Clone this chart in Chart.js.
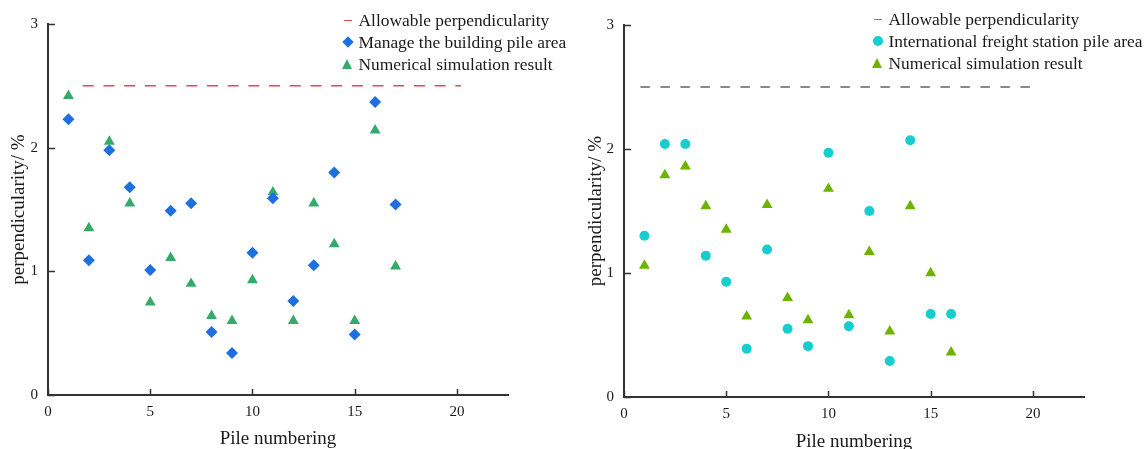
<!DOCTYPE html>
<html>
<head>
<meta charset="utf-8">
<script src="https://cdn.jsdelivr.net/npm/chart.js@4.4.0/dist/chart.umd.min.js"></script>
<style>
    body { margin: 0; background: #fff; width: 1146px; height: 449px; overflow: hidden; position: relative;
           font-family: "Liberation Serif", "Times New Roman", serif; }
    .box { position: absolute; top: 0; width: 573px; height: 449px; }
    .legend { position: absolute; font-size: 17.4px; color: #1a1a1a; line-height: 22px; }
    .row { display: flex; align-items: center; white-space: nowrap; }
    .mk { display: inline-block; width: 11px; height: 11px; margin-right: 5.5px; position: relative; }
    .mk i { position: absolute; display: block; }
    .dash i { left: 2px; top: 5px; width: 8px; height: 1.5px; }
    .diamond i { left: 1.5px; top: 1.5px; width: 8px; height: 8px; transform: rotate(45deg); }
    .tri i { left: 0; top: 0.5px; width: 0; height: 0; border-left: 5.5px solid transparent; border-right: 5.5px solid transparent; }
    .circle i { left: 0.5px; top: 0.5px; width: 10px; height: 10px; border-radius: 50%; }
</style>
</head>
<body>
<div class="box" style="left:0"><canvas id="leftChart" width="573" height="449"></canvas></div>
<div class="box" style="left:573px"><canvas id="rightChart" width="573" height="449"></canvas></div>

<div class="legend" style="left:342px; top:9px;">
    <div class="row"><span class="mk dash"><i style="background:#e84848"></i></span>Allowable perpendicularity</div>
    <div class="row"><span class="mk diamond"><i style="background:#1e6fdf"></i></span>Manage the building pile area</div>
    <div class="row"><span class="mk tri"><i style="border-bottom:10px solid #35aa6b"></i></span>Numerical simulation result</div>
</div>
<div class="legend" style="left:872px; top:8px;">
    <div class="row"><span class="mk dash"><i style="background:#777"></i></span>Allowable perpendicularity</div>
    <div class="row"><span class="mk circle"><i style="background:#17cdd0"></i></span>International freight station pile area</div>
    <div class="row"><span class="mk tri"><i style="border-bottom:10px solid #6db300"></i></span>Numerical simulation result</div>
</div>

<script>
// left panel: building pile area
const pilesLeft = [1, 2, 3, 4, 5, 6, 7, 8, 9, 10, 11, 12, 13, 14, 15, 16, 17];
const buildingArea = [2.23, 1.09, 1.98, 1.68, 1.01, 1.49, 1.55, 0.51, 0.34, 1.15, 1.59, 0.76, 1.05, 1.80, 0.49, 2.37, 1.54];
const simulationLeft = [2.42, 1.35, 2.05, 1.55, 0.75, 1.11, 0.90, 0.64, 0.60, 0.93, 1.64, 0.60, 1.55, 1.22, 0.60, 2.14, 1.04];
const allowLeftX = [1.7, 20.2];

// right panel: international freight station
const pilesRight = [1, 2, 3, 4, 5, 6, 7, 8, 9, 10, 11, 12, 13, 14, 15, 16];
const freightArea = [1.30, 2.04, 2.04, 1.14, 0.93, 0.39, 1.19, 0.55, 0.41, 1.97, 0.57, 1.50, 0.29, 2.07, 0.67, 0.67];
const simulationRight = [1.06, 1.79, 1.86, 1.54, 1.35, 0.65, 1.55, 0.80, 0.62, 1.68, 0.66, 1.17, 0.53, 1.54, 1.00, 0.36];
const allowRightX = [0.8, 20.25];

const allowable = 2.5;
const xTicks = [0, 5, 10, 15, 20];
const yTicks = [0, 1, 2, 3];

const toPoints = (xs, ys) => xs.map((x, i) => ({ x: x, y: ys[i] }));

// ticks in the picture point inward, chart.js only draws them outward
const innerTicks = {
    id: 'innerTicks',
    afterDatasetsDraw(chart) {
        const { ctx, chartArea, scales } = chart;
        ctx.save();
        ctx.strokeStyle = '#333';
        ctx.lineWidth = 1.5;
        scales.x.ticks.forEach(t => {
            const px = Math.round(scales.x.getPixelForValue(t.value)) + 0.5;
            ctx.beginPath();
            ctx.moveTo(px, chartArea.bottom);
            ctx.lineTo(px, chartArea.bottom - 6);
            ctx.stroke();
        });
        scales.y.ticks.forEach(t => {
            const py = Math.round(scales.y.getPixelForValue(t.value)) + 0.5;
            ctx.beginPath();
            ctx.moveTo(chartArea.left, py);
            ctx.lineTo(chartArea.left + 7, py);
            ctx.stroke();
        });
        ctx.restore();
    }
};

function makeChart(id, cfg) {
    const tickFont = { family: 'Liberation Serif', size: 15 };
    const titleFont = { family: 'Liberation Serif', size: 19, lineHeight: 0.7 };
    return new Chart(document.getElementById(id), {
        type: 'scatter',
        data: {
            datasets: [
                {
                    label: 'Allowable perpendicularity',
                    data: toPoints(cfg.allowX, cfg.allowX.map(() => allowable)),
                    showLine: true,
                    borderColor: cfg.lineColor,
                    borderWidth: cfg.lineWidth,
                    borderDash: cfg.dash,
                    pointRadius: 0
                },
                {
                    label: cfg.areaLabel,
                    data: toPoints(cfg.piles, cfg.area),
                    pointStyle: cfg.areaStyle,
                    pointRadius: cfg.areaRadius,
                    backgroundColor: cfg.areaColor,
                    borderColor: cfg.areaColor,
                    borderWidth: 0
                },
                {
                    label: 'Numerical simulation result',
                    data: toPoints(cfg.piles, cfg.sim),
                    pointStyle: 'triangle',
                    pointRadius: 6.3,
                    backgroundColor: cfg.simColor,
                    borderColor: cfg.simColor,
                    borderWidth: 0
                }
            ]
        },
        options: {
            responsive: false,
            animation: false,
            devicePixelRatio: 1,
            layout: { padding: { left: 0, right: cfg.padRight, top: cfg.padTop, bottom: 0 } },
            plugins: { legend: { display: false }, tooltip: { enabled: false } },
            scales: {
                x: {
                    type: 'linear',
                    min: 0,
                    max: 22.5,
                    afterFit: s => { s.height = cfg.xHeight; },
                    afterBuildTicks: s => { s.ticks = xTicks.map(v => ({ value: v })); },
                    ticks: { font: tickFont, color: '#1a1a1a', padding: 8, maxRotation: 0 },
                    grid: { display: true, drawOnChartArea: false, drawTicks: false },
                    border: { display: true, color: '#333', width: 2 },
                    title: { display: true, text: 'Pile numbering', font: titleFont, color: '#1a1a1a',
                             padding: { top: 0, bottom: cfg.xTitlePad } }
                },
                y: {
                    min: 0,
                    max: 3,
                    afterFit: s => { s.width = cfg.yWidth; },
                    afterBuildTicks: s => { s.ticks = yTicks.map(v => ({ value: v })); },
                    ticks: { font: tickFont, color: '#1a1a1a', padding: 10 },
                    grid: { display: true, drawOnChartArea: false, drawTicks: false },
                    border: { display: true, color: '#333', width: 2 },
                    title: { display: true, text: 'perpendicularity/ %', font: titleFont, color: '#1a1a1a',
                             padding: { top: cfg.yTitlePad, bottom: 0 } }
                }
            }
        },
        plugins: [innerTicks]
    });
}

makeChart('leftChart', {
    piles: pilesLeft, area: buildingArea, sim: simulationLeft, allowX: allowLeftX,
    areaLabel: 'Manage the building pile area', areaStyle: 'rectRot', areaRadius: 6,
    areaColor: '#1e6fdf', simColor: '#35aa6b',
    lineColor: '#e84848', lineWidth: 1.5, dash: [11, 9.7],
    padRight: 65, padTop: 24, xHeight: 54, yWidth: 48, xTitlePad: 3.3, yTitlePad: 12.3
});

makeChart('rightChart', {
    piles: pilesRight, area: freightArea, sim: simulationRight, allowX: allowRightX,
    areaLabel: 'International freight station pile area', areaStyle: 'circle', areaRadius: 5,
    areaColor: '#17cdd0', simColor: '#6db300',
    lineColor: '#8a8a8a', lineWidth: 2, dash: [9.5, 10.5],
    padRight: 62, padTop: 25, xHeight: 52, yWidth: 51, xTitlePad: 0.3, yTitlePad: 16.3
});
</script>
</body>
</html>
